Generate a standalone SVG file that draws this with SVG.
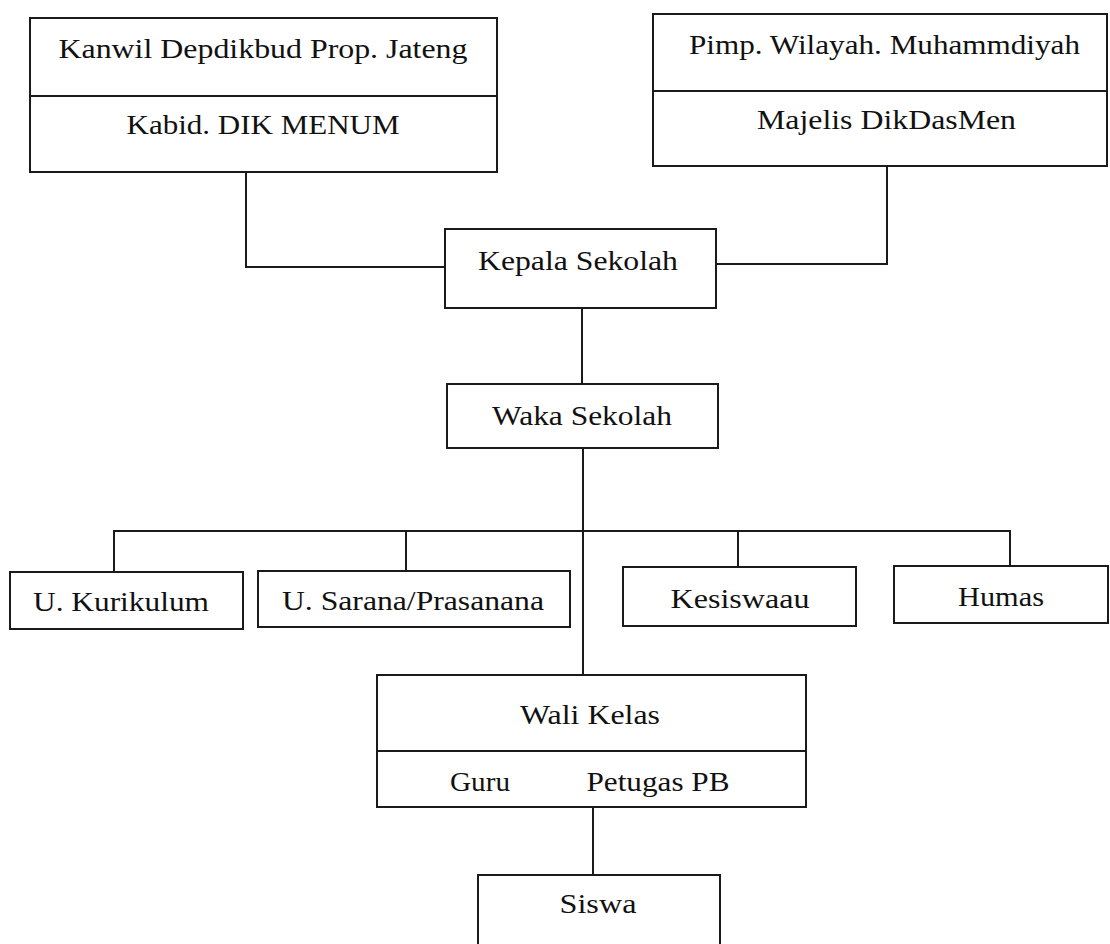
<svg xmlns="http://www.w3.org/2000/svg" width="1110" height="944" viewBox="0 0 1110 944">
<style>
  .box{fill:#fff;stroke:#1a1a1a;stroke-width:2}
  .ln{fill:none;stroke:#1a1a1a;stroke-width:2}
  .t{font-size:28px;fill:#111;text-anchor:middle}
</style>
<rect width="1110" height="944" fill="#fff"/>
<g id="connectors">
  <path class="ln" d="M246 172 V267 H445"/>
  <path class="ln" d="M887 166 V264 H716"/>
  <path class="ln" d="M582 308 V384"/>
  <path class="ln" d="M583 448 V675"/>
  <path class="ln" d="M114 572 V531 H1010 V566"/>
  <path class="ln" d="M406 531 V571"/>
  <path class="ln" d="M738 531 V567"/>
  <path class="ln" d="M593 807 V875"/>
</g>
<g font-family="Liberation Serif, Times New Roman, Times, serif">
<g id="kanwil">
  <rect class="box" x="30" y="18" width="467" height="154"/>
  <line class="ln" x1="30" y1="96" x2="497" y2="96"/>
  <text class="t" x="263" y="58" textLength="409" lengthAdjust="spacingAndGlyphs">Kanwil Depdikbud Prop. Jateng</text>
  <text class="t" x="263" y="134" textLength="273" lengthAdjust="spacingAndGlyphs">Kabid. DIK MENUM</text>
</g>
<g id="pimp">
  <rect class="box" x="653" y="14" width="454" height="152"/>
  <line class="ln" x1="653" y1="91" x2="1107" y2="91"/>
  <text class="t" x="884.5" y="54" textLength="391" lengthAdjust="spacingAndGlyphs">Pimp. Wilayah. Muhammdiyah</text>
  <text class="t" x="886.5" y="129" textLength="259" lengthAdjust="spacingAndGlyphs">Majelis DikDasMen</text>
</g>
<g id="kepala">
  <rect class="box" x="445" y="229" width="271" height="79"/>
  <text class="t" x="578" y="270" textLength="200" lengthAdjust="spacingAndGlyphs">Kepala Sekolah</text>
</g>
<g id="waka">
  <rect class="box" x="447" y="384" width="271" height="64"/>
  <text class="t" x="582" y="425" textLength="180" lengthAdjust="spacingAndGlyphs">Waka Sekolah</text>
</g>
<g id="kurikulum">
  <rect class="box" x="10" y="572" width="233" height="57"/>
  <text class="t" x="121" y="611" textLength="176" lengthAdjust="spacingAndGlyphs">U. Kurikulum</text>
</g>
<g id="sarana">
  <rect class="box" x="258" y="571" width="312" height="56"/>
  <text class="t" x="413" y="610" textLength="262" lengthAdjust="spacingAndGlyphs">U. Sarana/Prasanana</text>
</g>
<g id="kesiswaan">
  <rect class="box" x="623" y="567" width="233" height="59"/>
  <text class="t" x="740" y="608" textLength="139" lengthAdjust="spacingAndGlyphs">Kesiswaau</text>
</g>
<g id="humas">
  <rect class="box" x="894" y="566" width="214" height="57"/>
  <text class="t" x="1001" y="606" textLength="86" lengthAdjust="spacingAndGlyphs">Humas</text>
</g>
<g id="wali">
  <rect class="box" x="377" y="675" width="429" height="132"/>
  <line class="ln" x1="377" y1="751" x2="806" y2="751"/>
  <text class="t" x="590" y="724" textLength="140" lengthAdjust="spacingAndGlyphs">Wali Kelas</text>
  <text class="t" x="480" y="791" textLength="60" lengthAdjust="spacingAndGlyphs">Guru</text>
  <text class="t" x="658" y="791" textLength="143" lengthAdjust="spacingAndGlyphs">Petugas PB</text>
</g>
<g id="siswa">
  <rect class="box" x="478" y="875" width="242" height="80"/>
  <text class="t" x="598" y="913" textLength="77" lengthAdjust="spacingAndGlyphs">Siswa</text>
</g>
</g>
</svg>
